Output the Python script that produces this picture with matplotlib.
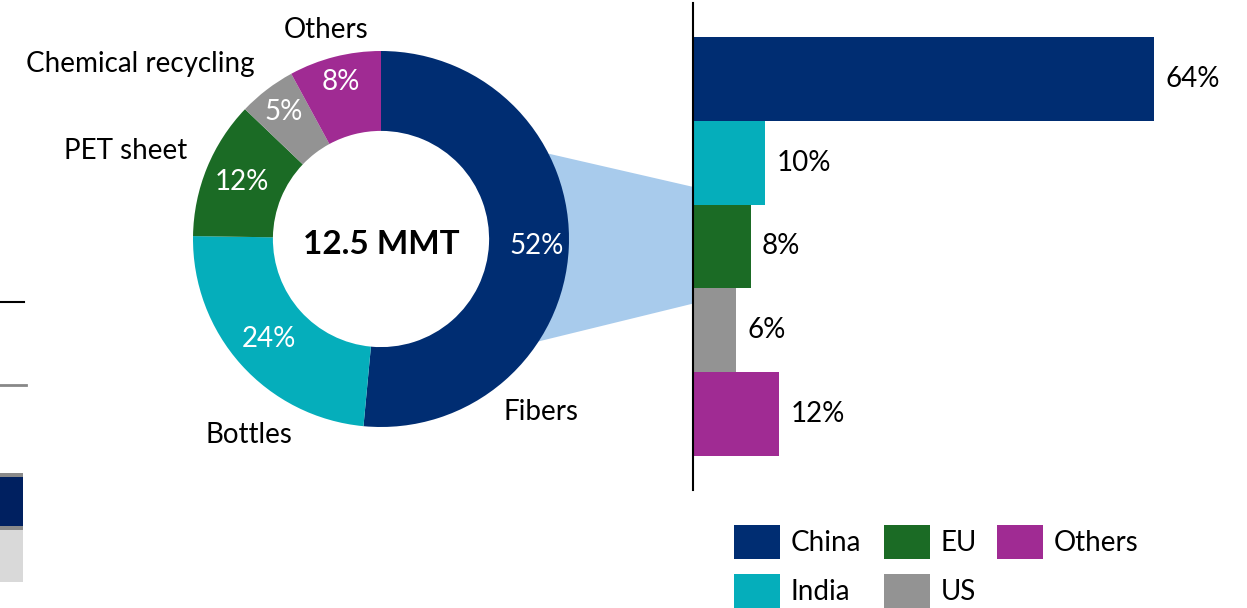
import matplotlib
matplotlib.use("Agg")
import matplotlib.pyplot as plt
from matplotlib.patches import Polygon, Rectangle, Patch
from matplotlib.lines import Line2D
import numpy as np

plt.rcParams['font.family'] = ['Lato', 'DejaVu Sans']

# ---- data ----
segments = ["Fibers", "Bottles", "PET sheet", "Chemical recycling", "Others"]
segment_share = [52, 24, 12, 5, 8]
segment_labels = ["52%", "24%", "12%", "5%", "8%"]
segment_colors = ["#002D72", "#05AEBB", "#1B6B25", "#939393", "#A02B93"]
total_label = "12.5 MMT"

regions = ["China", "India", "EU", "US", "Others"]
region_share = [64, 10, 8, 6, 12]
region_labels = ["64%", "10%", "8%", "6%", "12%"]
region_colors = ["#002D72", "#05AEBB", "#1B6B25", "#939393", "#A02B93"]

W, H = 1247, 608
FS = 20
fig = plt.figure(figsize=(W / 100, H / 100), dpi=100)

def fr(x0, y0, x1, y1):
    # pixel box (top-down) -> figure fraction [l, b, w, h]
    return [x0 / W, (H - y1) / H, (x1 - x0) / W, (y1 - y0) / H]

# ---- donut ----
cx, cy, R = 381, 239, 188
axd = fig.add_axes(fr(cx - R, cy - R, cx + R, cy + R))
wedges, _ = axd.pie(segment_share, colors=segment_colors, startangle=90,
                    counterclock=False, radius=1.0,
                    wedgeprops=dict(width=0.425, linewidth=0))
axd.set_xlim(-1, 1)
axd.set_ylim(-1, 1)
axd.axis('off')

label_r = [0.83, 0.80, 0.80, 0.85, 0.86]
for w, lab, r, name in zip(wedges, segment_labels, label_r, segments):
    mid = np.deg2rad((w.theta1 + w.theta2) / 2)
    kw = {}
    if name == "Chemical recycling":
        kw['bbox'] = dict(facecolor="#939393", edgecolor='none', pad=0.5)
    axd.text(r * np.cos(mid), r * np.sin(mid), lab, color='white',
             fontsize=FS, ha='center', va='center', **kw)

outer_pos = [(0.85, -0.92), (-0.70, -1.04), (-1.36, 0.47), (-1.28, 0.93), (-0.29, 1.11)]
for name, (x, y) in zip(segments, outer_pos):
    axd.text(x, y, name, fontsize=FS, ha='center', va='center', color='black')

axd.text(0.0, -0.03, total_label, fontsize=24, fontweight='bold',
         ha='center', va='center', color='black')

# ---- bars ----
axb = fig.add_axes(fr(693, 3, 1240, 490))
ypos = np.arange(len(regions))
axb.barh(ypos, region_share, height=1.0, color=region_colors, linewidth=0)
axb.set_xlim(0, 76)
axb.set_ylim(len(regions) - 0.1, -0.9)
for sp in ['top', 'right', 'bottom']:
    axb.spines[sp].set_visible(False)
axb.spines['left'].set_linewidth(1.5)
axb.set_xticks([])
axb.set_yticks([])
for y, v, lab in zip(ypos, region_share, region_labels):
    axb.text(v + 1.6, y, lab, fontsize=FS, ha='left', va='center')

# ---- zoom fan connecting Fibers to bars ----
fig.canvas.draw()
to_fig = fig.transFigure.inverted()
a1, a2 = np.deg2rad(27), np.deg2rad(-33)
p1 = to_fig.transform(axd.transData.transform((np.cos(a1), np.sin(a1))))
p2 = to_fig.transform(axb.transData.transform((0, 1.29)))
p3 = to_fig.transform(axb.transData.transform((0, 2.68)))
p4 = to_fig.transform(axd.transData.transform((np.cos(a2), np.sin(a2))))
fan = Polygon([p1, p2, p3, p4], closed=True, transform=fig.transFigure,
              facecolor="#A8CBEC", edgecolor='none', zorder=-1)
fig.patches.append(fan)

# ---- legend (three columns placed like the original) ----
handles = [Patch(facecolor=c, edgecolor='none', label=n)
           for n, c in zip(regions, region_colors)]
columns = [[0, 1], [2, 3], [4]]
col_x = [734, 884, 997]
for idx, x in zip(columns, col_x):
    fig.legend(handles=[handles[i] for i in idx], ncol=1, loc='upper left',
               bbox_to_anchor=(x / W, 1 - 525 / H), frameon=False,
               fontsize=FS, handlelength=1.65, handleheight=1.5,
               handletextpad=0.4, labelspacing=0.55,
               borderpad=0, borderaxespad=0)

# ---- cropped fragments at the left edge ----
fig.lines.append(Line2D([0, 24 / W], [1 - 302 / H] * 2, transform=fig.transFigure,
                        color='black', lw=1.5))
fig.lines.append(Line2D([0, 26 / W], [1 - 385 / H] * 2, transform=fig.transFigure,
                        color='#888888', lw=2))
for (y0, y1, c) in [(473, 477, '#8a8a8a'), (477, 526, '#002060'),
                    (526, 530, '#8a8a8a'), (530, 582, '#D9D9D9')]:
    fig.patches.append(Rectangle((0, 1 - y1 / H), 23 / W, (y1 - y0) / H,
                                 transform=fig.transFigure, facecolor=c,
                                 edgecolor='none'))

fig.savefig("out.png", dpi=100)
